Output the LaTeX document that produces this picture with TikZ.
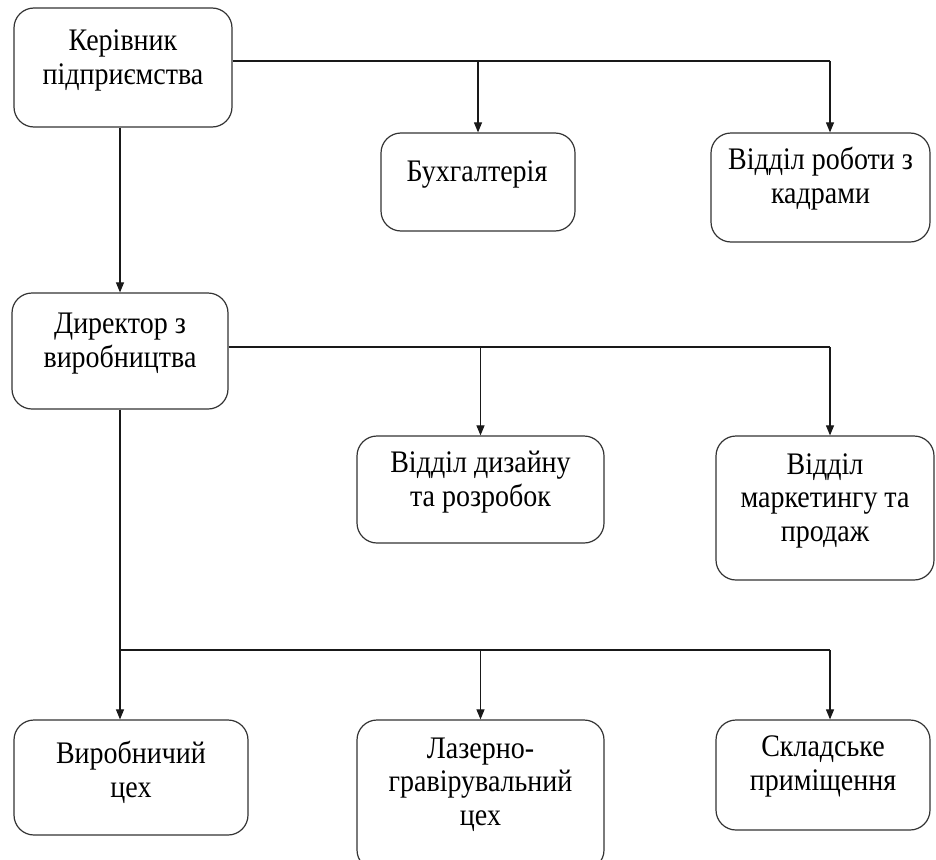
\documentclass[tikz,border=0pt]{standalone}
\usepackage{fontspec}
\setmainfont{Liberation Serif}
\usetikzlibrary{arrows.meta}
\newcommand\orgtext[1]{\scalebox{1}[1.12]{\begin{tabular}{@{}c@{}}#1\end{tabular}}}
\begin{document}
\begin{tikzpicture}[x=1pt,y=-1pt,
  orgbox/.style={draw=black!80, line width=1.2pt, rounded corners=20pt, inner sep=0pt},
  lbl/.style={inner sep=0pt, font=\fontsize{28}{30}\selectfont},
  conn/.style={draw=black!90, line width=1.1pt},
  arr/.style={conn, -{Triangle[length=10pt,width=8pt]}}]
\useasboundingbox (0,0) rectangle (936,859);
% level 1
\node[orgbox, minimum width=218pt, minimum height=119pt] (k) at (123,67.5) {};
\node[lbl] (kt) at (123,61) {\orgtext{Керівник\\підприємства}};
\node[orgbox, minimum width=194pt, minimum height=98pt] (b) at (478,182) {};
\node[lbl] (bt) at (477,175) {\orgtext{Бухгалтерія}};
\node[orgbox, minimum width=219pt, minimum height=109pt] (vr) at (820.5,187.5) {};
\node[lbl] (vrt) at (820.5,180) {\orgtext{Відділ роботи з\\кадрами}};
% level 2
\node[orgbox, minimum width=216pt, minimum height=116pt] (d) at (120,351) {};
\node[lbl] (dt) at (120,344) {\orgtext{Директор з\\виробництва}};
\node[orgbox, minimum width=247pt, minimum height=107pt] (dz) at (480.5,489.5) {};
\node[lbl] (dzt) at (480.5,483) {\orgtext{Відділ дизайну\\та розробок}};
\node[orgbox, minimum width=218pt, minimum height=144pt] (m) at (825,508) {};
\node[lbl] (mt) at (825,501) {\orgtext{Відділ\\маркетингу та\\продаж}};
% level 3
\node[orgbox, minimum width=234pt, minimum height=115pt] (v) at (131,777.5) {};
\node[lbl] (vt) at (131,774) {\orgtext{Виробничий\\цех}};
\node[orgbox, minimum width=247pt, minimum height=150pt] (l) at (480.5,795) {};
\node[lbl] (lt) at (480.5,785) {\orgtext{Лазерно-\\гравірувальний\\цех}};
\node[orgbox, minimum width=214pt, minimum height=110pt] (s) at (823,775) {};
\node[lbl] (st) at (823,767) {\orgtext{Складське\\приміщення}};
% junctions
\coordinate (j1) at (830,61);
\coordinate (j2) at (830,347);
\coordinate (j3a) at (120,650);
\coordinate (j3b) at (830,650);
% connectors level 1
\draw[conn] (k.east |- j1) -- (j1);
\draw[arr] (b.north |- j1) -- (b.north);
\draw[arr] (j1) -- (vr.north -| j1);
\draw[arr] (k.south -| d.north) -- (d.north);
% level 2
\draw[conn] (d.east |- j2) -- (j2);
\draw[arr] (dz.north |- j2) -- (dz.north);
\draw[arr] (j2) -- (m.north -| j2);
% level 3
\draw[conn] (d.south) -- (j3a) -- (j3b);
\draw[arr] (j3a) -- (v.north -| j3a);
\draw[arr] (l.north |- j3a) -- (l.north);
\draw[arr] (j3b) -- (s.north -| j3b);
\end{tikzpicture}
\end{document}
